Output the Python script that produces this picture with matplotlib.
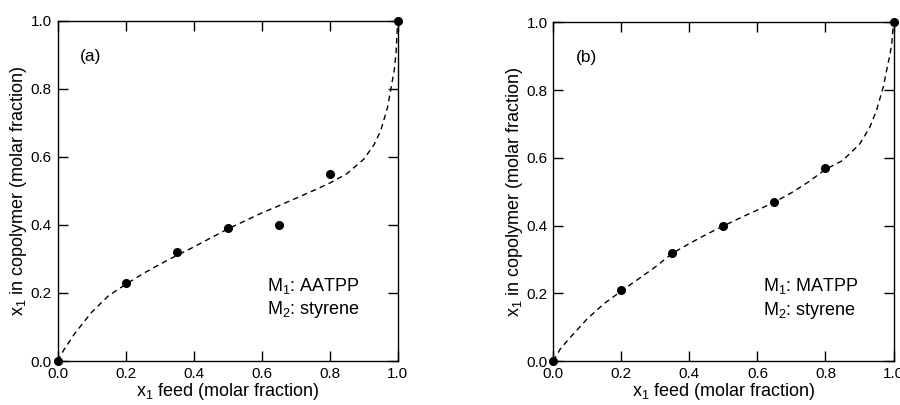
import matplotlib
matplotlib.use("Agg")
import matplotlib.pyplot as plt

# Fuente tipo Helvetica
plt.rcParams['font.family'] = ['Liberation Sans', 'DejaVu Sans']
plt.rcParams['mathtext.fontset'] = 'custom'
plt.rcParams['mathtext.rm'] = 'Liberation Sans'
plt.rcParams['mathtext.it'] = 'Liberation Sans:italic'
plt.rcParams['mathtext.bf'] = 'Liberation Sans:bold'
plt.rcParams['mathtext.default'] = 'regular'

# Datos medidos (puntos)
feed_pts = [0.0, 0.2, 0.35, 0.5, 0.65, 0.8, 1.0]
copo_a = [0.0, 0.23, 0.32, 0.39, 0.40, 0.55, 1.0]
copo_b = [0.0, 0.21, 0.32, 0.40, 0.47, 0.57, 1.0]

# Curvas discontinuas
curve_x_a = [0.0, 0.02, 0.05, 0.1, 0.15, 0.2, 0.25, 0.3, 0.35, 0.4, 0.5, 0.6, 0.65,
             0.7, 0.75, 0.8, 0.85, 0.9, 0.93, 0.95, 0.97, 0.98, 0.99, 0.995, 1.0]
curve_y_a = [0.0, 0.035, 0.08, 0.143, 0.192, 0.225, 0.256, 0.284, 0.31, 0.335, 0.388, 0.435, 0.456,
             0.478, 0.50, 0.523, 0.55, 0.593, 0.635, 0.677, 0.745, 0.80, 0.856, 0.905, 1.0]

curve_x_b = [0.0, 0.02, 0.05, 0.1, 0.15, 0.2, 0.25, 0.3, 0.35, 0.4, 0.45, 0.5, 0.55, 0.6, 0.65,
             0.7, 0.75, 0.8, 0.85, 0.9, 0.93, 0.95, 0.97, 0.98, 0.99, 0.995, 1.0]
curve_y_b = [0.0, 0.035, 0.07, 0.125, 0.17, 0.207, 0.242, 0.278, 0.318, 0.347, 0.374, 0.399, 0.423, 0.446, 0.469,
             0.497, 0.529, 0.566, 0.592, 0.64, 0.69, 0.74, 0.81, 0.86, 0.907, 0.94, 1.0]

ticks = [0.0, 0.2, 0.4, 0.6, 0.8, 1.0]
tick_labels = ["0.0", "0.2", "0.4", "0.6", "0.8", "1.0"]

panels = [
    ("(a)", "AATPP", copo_a, curve_x_a, curve_y_a, [0.0639, 0.1086, 0.378, 0.840]),
    ("(b)", "MATPP", copo_b, curve_x_b, curve_y_b, [0.6148, 0.1086, 0.378, 0.836]),
]

fig = plt.figure(figsize=[9, 4.05], dpi=100)

for tag, monomer, copo, cx, cy, pos in panels:
    ax = fig.add_axes(pos)
    ax.plot(cx, cy, color='k', lw=1.0, dashes=(4, 3), clip_on=False)
    ax.plot(feed_pts, copo, 'o', color='k', markersize=5.5, clip_on=False, zorder=5)

    ax.set_xlim(0, 1)
    ax.set_ylim(0, 1)
    ax.set_xticks(ticks)
    ax.set_xticklabels(tick_labels)
    ax.set_yticks(ticks)
    ax.set_yticklabels(tick_labels)
    ax.tick_params(direction='in', length=7, width=1.0, top=True, right=True,
                   labelsize=11, pad=4)
    for sp in ax.spines.values():
        sp.set_linewidth(1.0)

    ax.set_xlabel("x$_1$ feed (molar fraction)", fontsize=13, labelpad=0)
    ax.set_ylabel("x$_1$ in copolymer (molar fraction)", fontsize=13, labelpad=1)

    ax.text(0.065, 0.895, tag, fontsize=12.5, transform=ax.transAxes,
            ha='left', va='center')
    ax.text(0.617, 0.185, "M$_1$: " + monomer + "\nM$_2$: styrene", fontsize=13,
            transform=ax.transAxes, ha='left', va='center', linespacing=1.25)

plt.savefig("out.png", dpi=100)
